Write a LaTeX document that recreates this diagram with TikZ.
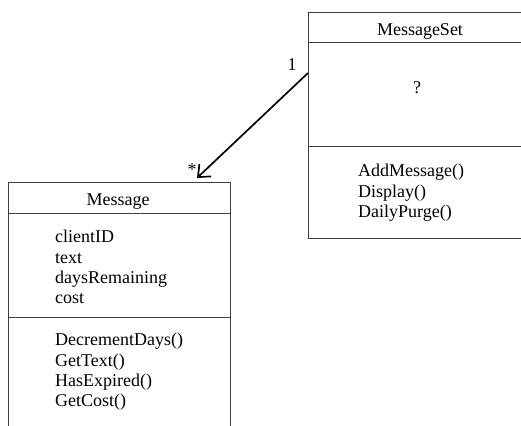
\documentclass[tikz,border=0pt]{standalone}
\usepackage{fontspec}
\setmainfont{Liberation Serif}
\usetikzlibrary{arrows.meta, positioning}

\tikzset{
    classbox/.style={draw=black!75, line width=1pt, inner sep=0pt, anchor=north west},
    divider/.style={draw=black!75, line width=1pt},
    members/.style={align=left, anchor=north west, inner sep=0pt, font=\fontsize{18}{20.4}\selectfont},
    classname/.style={anchor=base, inner sep=0pt, font=\fontsize{18}{20.4}\selectfont},
    assoc/.style={line width=1.7pt, -{Straight Barb[length=10pt, width=17pt, line width=1.7pt]}}
}

\begin{document}
\begin{tikzpicture}[x=1pt, y=-1pt]
    \useasboundingbox (0,0) rectangle (521,425);
    % MessageSet class
    \node[classbox, minimum width=224pt, minimum height=226pt] (setbox) at (308,12) {};
    \draw[divider] (setbox.west |- 0,43) -- (setbox.east |- 0,43);
    \draw[divider] (setbox.west |- 0,146) -- (setbox.east |- 0,146);
    \node[classname] (setname) at (420,36) {MessageSet};
    \node[classname] (setattr) at (417,94) {?};
    \node[members] (setops) at (358,164) {AddMessage()\\Display()\\DailyPurge()};
    % Message class
    \node[classbox, minimum width=222pt, minimum height=250pt] (msgbox) at (8,182) {};
    \draw[divider] (msgbox.west |- 0,213) -- (msgbox.east |- 0,213);
    \draw[divider] (msgbox.west |- 0,317) -- (msgbox.east |- 0,317);
    \node[classname] (msgname) at (118,205) {Message};
    \node[members] (msgattr) at (55,230) {clientID\\text\\daysRemaining\\cost};
    \node[members] (msgops) at (55,333) {DecrementDays()\\GetText()\\HasExpired()\\GetCost()};
    % association
    \draw[assoc] (setbox.west |- 0,73) -- ([xshift=189pt, yshift=4pt]msgbox.north west);
    \node[classname] (multone) at (292,71) {1};
    \node[classname] (multmany) at (192,175) {*};
\end{tikzpicture}
\end{document}
